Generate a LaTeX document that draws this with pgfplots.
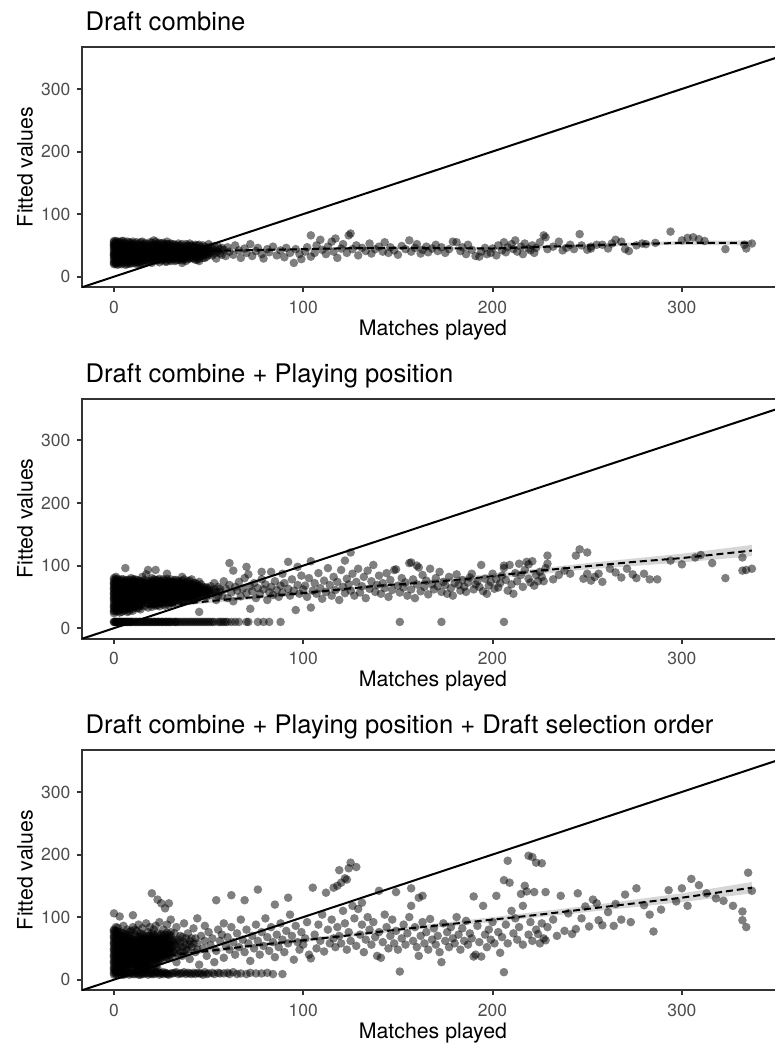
\documentclass[border=0pt]{standalone}
\usepackage{fontspec}
\setmainfont{TeX Gyre Heros}
\usepackage{pgfplots}
\pgfplotsset{compat=1.18}
\definecolor{c20}{HTML}{333333}
\definecolor{c30}{HTML}{4D4D4D}
\definecolor{band}{HTML}{999999}
\pgfplotsset{
  panel/.style={
    scale only axis, width=701.7pt, height=240pt,
    xmin=-16.85, xmax=353.85, ymin=-16.5, ymax=367,
    xtick={0,100,200,300}, ytick={0,100,200,300},
    tick align=outside, tick pos=left,
    major tick length=5.3pt,
    every tick/.style={c20, line width=2pt},
    axis line style={c20, line width=2pt},
    ticklabel style={font=\fontsize{17.5}{20}\selectfont, text=c30},
    yticklabel style={xshift=-3pt},
    xticklabel style={yshift=-5pt},
    /pgf/number format/assume math mode=true,
    label style={font=\fontsize{21.3}{25}\selectfont},
    xlabel={Matches played}, ylabel={Fitted values},
    xlabel style={at={(axis description cs:0.5,0)}, anchor=base, yshift=-48pt},
    ylabel style={at={(axis description cs:-0.0814,0.5)}, anchor=center},
    title style={at={(axis description cs:0,1)}, anchor=base west, yshift=10.3pt,
      font=\fontsize{25.6}{30}\selectfont},
  },
  pts/.style={only marks, mark=*, mark size=4.3pt,
    mark options={draw opacity=0, fill=black, fill opacity=0.5}},
  idl/.style={black, line width=2pt},
  lo/.style={black, line width=2pt, dash pattern=on 7pt off 4pt},
  rib/.style={fill=band, fill opacity=0.4, draw=none},
}
\begin{document}
\begin{tikzpicture}
\useasboundingbox (0pt,0pt) rectangle (775pt,-1044pt);

% ---------- panel 1 ----------
\begin{axis}[panel, at={(82.1pt,-287pt)}, anchor=south west, title={Draft combine}]
\addplot[pts] coordinates {
(0,20)(0,24)(0,28)(0,31)(0,34)(0,37)(0,40)(0,43)(0,46)(0,49)(0,52)(0,55)(0,57)
(1,22)(1,26)(1,30)(1,33)(1,36)(1,39)(1,42)(1,45)(1,48)(1,51)(1,54)
(2,19)(2,23)(2,27)(2,32)(2,35)(2,38)(2,41)(2,44)(2,47)(2,50)(2,53)(2,56)
(3,21)(3,25)(3,29)(3,36)(3,43)(3,50)(3,55)
(4,20)(4,27)(4,33)(4,39)(4,46)(4,52)(4,57)
(5,22)(5,30)(5,37)(5,44)(5,49)(5,54)
(6,19)(6,26)(6,34)(6,41)(6,48)(6,53)
(7,23)(7,31)(7,38)(7,45)(7,51)(7,56)
(8,21)(8,28)(8,35)(8,42)(8,50)
(9,25)(9,33)(9,40)(9,47)(9,54)
(10,22)(10,30)(10,38)(10,45)(10,52)
(11,27)(11,35)(11,43)(11,49)
(12,20)(12,32)(12,40)(12,55)
(13,25)(13,37)(13,46)(13,52)
(14,29)(14,42)(14,50)
(15,22)(15,34)(15,45)(15,56)
(16,27)(16,39)(16,48)
(17,31)(17,43)(17,53)
(18,24)(18,36)(18,46)
(19,33)(19,41)(19,55)
(20,22)(20,29)(20,38)(20,49)
(21,35)(21,44)(21,58)
(22,26)(22,40)(22,51)
(23,31)(23,47)
(24,23)(24,37)(24,54)
(25,30)(25,42)(25,49)
(26,27)(26,45)
(27,34)(27,52)
(28,24)(28,39)(28,47)
(29,32)(29,43)
(30,28)(30,37)(30,53)
(31,41)(31,48)
(32,25)(32,35)
(33,30)(33,44)(33,50)
(34,38)(34,27)
(35,33)(35,46)
(36,22)(36,40)(36,52)
(37,31)(37,44)
(38,36)(38,48)
(39,28)(39,41)
(40,34)(40,45)(40,53)
(41,38)(41,30)
(42,43)(42,49)
(43,33)(43,39)
(44,27)(44,46)
(45,25)(45,36)(45,51)
(46,41)(46,33)
(47,44)(47,38)
(48,30)(48,48)
(49,36)(49,42)
(50,39)(50,52)
(0,22)(0,35)(0,50)(1,20)(1,57)(2,29)(2,45)(3,33)(3,39)(3,47)(4,24)(4,42)(5,27)(5,40)
(5,57)(6,30)(6,37)(6,44)(7,20)(7,28)(8,25)(8,39)(8,46)(8,55)(9,21)(9,29)(9,36)(9,51)
(10,26)(10,34)(10,42)(10,56)(11,23)(11,31)(11,53)(12,24)(12,28)(12,36)(12,47)(13,21)
(13,30)(13,42)(14,22)(14,34)(14,38)(14,55)(15,26)(15,30)(15,40)(15,51)(16,23)(16,32)
(16,44)(16,53)(17,26)(17,36)(17,48)(18,29)(18,41)(18,51)(19,24)(19,37)(19,49)(20,33)
(20,44)(20,54)(21,27)(21,39)(21,50)(22,31)(22,45)(22,56)(23,26)(23,39)(23,53)(24,29)
(24,44)(25,35)(25,53)(26,33)(26,39)(26,50)(27,28)(27,42)(28,33)(28,52)(29,37)(29,48)
(30,32)(30,44)(31,35)(31,29)(32,40)(32,47)(33,37)(34,43)(34,49)(35,40)(36,30)(37,38)
(38,42)(39,35)(40,40)(41,44)(42,37)(43,47)(44,40)
(20,25)(21,31)(22,35)(23,43)(23,50)(24,33)(24,48)(25,26)(25,38)(25,45)(26,30)(26,36)
(26,42)(26,54)(27,24)(27,38)(27,46)(28,29)(28,43)(28,56)(29,27)(29,40)(29,52)(30,25)
(30,41)(30,49)(31,32)(31,38)(31,44)(31,52)(32,29)(32,43)(32,51)(33,26)(33,34)(33,40)
(34,31)(34,46)(34,53)(35,28)(35,37)(35,50)(36,26)(36,35)(36,44)(37,28)(37,35)(37,41)
(37,48)(38,25)(38,32)(38,40)(38,52)(39,31)(39,45)(39,50)(40,29)(40,37)(40,49)(41,34)
(41,42)(41,50)(42,29)(42,33)(42,40)(42,46)(43,27)(43,36)(43,43)(43,51)(44,31)(44,36)
(44,50)(45,29)(45,40)(45,45)(46,37)(46,47)(47,30)(47,34)(47,50)(48,36)(48,41)(48,44)
(49,32)(49,46)(50,35)(50,44)(51,38)(51,48)(52,41)(53,37)(53,49)(55,40)(56,44)(57,35)
(57,46)
(52,34)(52,45)(54,41)(54,29)(55,48)(56,37)(58,43)(59,33)(60,47)(61,40)
(63,35)(64,50)(66,42)(67,30)(69,45)(70,38)(72,52)(73,33)(75,41)(76,46)
(78,36)(79,29)(81,44)(82,39)(84,48)(86,34)(88,42)(90,31)(91,46)(93,38)
(95,22)(96,44)(98,36)(99,28)(101,40)(102,47)(104,66)(104,32)(106,38)(107,50)
(109,59)(110,43)(112,36)(113,48)(115,56)(116,40)(117,61)(118,30)(120,45)(121,52)
(123,38)(124,66)(125,69)(126,44)(128,50)(129,34)(131,46)(133,41)(135,53)(136,37)
(138,44)(140,48)(142,40)(143,55)(145,38)(146,47)(148,42)(150,35)(152,49)(154,44)
(156,58)(157,40)(159,46)(160,52)(162,37)(163,43)(165,48)(166,39)(168,45)(170,51)
(171,41)(173,47)(175,38)(177,44)(179,56)(181,55)(183,41)(184,47)(186,36)(187,51)
(189,43)(191,33)(193,32)(194,40)(196,46)(197,36)(199,38)(200,45)(202,34)(203,50)
(205,42)(206,55)(207,39)(208,47)(210,52)(211,44)(212,58)(213,40)(215,48)(216,36)
(217,53)(219,45)(220,42)(221,50)(222,38)(223,46)(225,55)(227,66)(228,63)(229,44)
(232,48)(235,56)(237,42)(239,46)(241,51)(243,44)(246,68)(247,50)(250,43)(252,48)
(252,45)(255,51)(258,51)(261,45)(263,53)(265,59)(268,56)(270,44)(272,41)(276,50)
(279,53)(281,52)(286,54)(294,72)(300,58)(303,62)(306,63)(309,60)(312,57)(323,44)
(333,51)(334,45)(337,53)
};
\addplot[rib] coordinates {(0,39.5)(50,42.5)(100,46)(150,48)(200,47)(250,52.5)(300,57)(337,58)
  (337,50)(300,51)(250,47.5)(200,43)(150,44)(100,42)(50,39.5)(0,34.5)} -- cycle;
\addplot[lo] coordinates {(0,37)(25,39)(50,41)(75,42.5)(100,44)(125,45.5)(150,46)(175,45.5)
  (200,45)(225,47.5)(250,50)(275,52)(300,54)(337,54)};
\addplot[idl] coordinates {(-20,-20)(400,400)};
\end{axis}

% ---------- panel 2 ----------
\begin{axis}[panel, at={(82.1pt,-638.5pt)}, anchor=south west, title={Draft combine + Playing position}]
\addplot[pts] coordinates {
(0,10)(0,10)(1,10)(1,10)(2,10)(3,10)(3,10)(4,10)(5,10)(6,10)(7,10)(8,10)(9,10)(10,10)
(11,10)(12,10)(13,10)(14,10)(15,10)(16,10)(17,10)(18,10)(19,10)(20,10)(21,10)(22,10)
(23,10)(24,10)(25,10)(26,10)(27,10)(28,10)(29,10)(30,10)(31,10)(32,10)(33,10)(34,10)
(36,10)(38,10)(40,10)(41,10)(43,10)(44,10)(46,10)(47,10)(49,10)(51,10)(52,10)(55,10)
(57,10)(58,10)(60,10)(64,10)(66,10)(70,10)(71,10)(76,10)(79,10)(82,10)(88,10)
(151,10)(173,10)(206,10)
(0.5,10)(1.5,10)(2.5,10)(3.5,10)(4.5,10)(5.5,10)(6.5,10)(7.5,10)(8.5,10)(9.5,10)(11.5,10)
(13.5,10)(15.5,10)(17.5,10)(19.5,10)(21.5,10)(23.5,10)(25.5,10)(27.5,10)(29.5,10)(32.5,10)
(35,10)(37,10)(39,10)(42,10)(45,10)(48,10)(50,10)(53,10)(56,10)(59,10)(62,10)
(0,24)(0,29)(0,33)(0,37)(0,41)(0,45)(0,49)(0,53)(0,57)(0,61)(0,65)(0,69)(0,73)(0,77)(0,80)
(1,27)(1,35)(1,43)(1,51)(1,59)(1,67)(1,75)(1,82)
(2,31)(2,39)(2,47)(2,55)(2,63)(2,71)(2,79)
(3,25)(3,36)(3,44)(3,52)(3,60)(3,68)(3,76)
(4,30)(4,40)(4,48)(4,58)(4,66)(4,74)
(5,28)(5,38)(5,46)(5,54)(5,62)(5,70)(5,78)
(6,33)(6,42)(6,50)(6,57)(6,64)(6,72)(6,96)
(7,26)(7,35)(7,45)(7,53)(7,61)(7,69)(7,77)
(8,31)(8,40)(8,49)(8,56)(8,65)(8,73)
(9,37)(9,44)(9,52)(9,60)(9,68)(9,80)
(10,28)(10,34)(10,47)(10,55)(10,63)(10,71)(10,78)
(11,39)(11,50)(11,58)(11,66)(11,74)
(12,32)(12,43)(12,53)(12,61)(12,69)(12,77)
(13,36)(13,46)(13,56)(13,64)(13,72)
(14,30)(14,41)(14,50)(14,59)(14,67)(14,75)
(15,44)(15,54)(15,62)(15,70)(15,82)
(16,35)(16,48)(16,57)(16,65)(16,73)
(17,40)(17,52)(17,60)(17,68)(17,86)
(18,33)(18,45)(18,55)(18,63)(18,71)(18,93)
(19,49)(19,58)(19,66)(19,74)
(20,38)(20,46)(20,56)(20,64)(20,72)(20,80)
(21,43)(21,53)(21,61)(21,69)
(22,36)(22,50)(22,59)(22,67)(22,77)(22,93)
(23,47)(23,57)(23,65)(23,73)
(24,40)(24,52)(24,62)(24,70)
(25,45)(25,55)(25,63)(25,75)
(26,49)(26,58)(26,68)(26,78)
(27,42)(27,54)(27,64)(27,72)
(28,51)(28,60)(28,70)(28,87)
(29,46)(29,57)(29,66)
(30,40)(30,53)(30,62)(30,74)
(31,48)(31,59)(31,69)
(32,55)(32,65)(32,77)
(33,45)(33,61)(33,71)
(34,52)(34,58)(34,68)
(35,47)(35,63)(35,74)
(36,56)(36,66)(36,82)
(37,50)(37,60)(37,71)
(38,54)(38,64)
(39,45)(39,58)(39,69)
(40,61)(40,52)(40,76)
(41,55)(41,66)
(42,48)(42,59)(42,72)
(43,62)(43,53)
(44,57)(44,67)
(45,26)(45,50)(45,63)
(46,59)(46,70)
(47,54)(47,61)
(48,57)(48,65)
(49,51)(49,60)
(50,63)(50,56)
(0,27)(0,35)(0,47)(0,55)(0,63)(0,71)(1,31)(1,39)(1,47)(1,55)(1,63)(1,71)(1,78)(2,27)
(2,35)(2,43)(2,51)(2,59)(2,67)(2,75)(3,30)(3,40)(3,48)(3,56)(3,64)(3,72)(4,26)(4,35)
(4,44)(4,53)(4,62)(4,70)(4,78)(5,33)(5,42)(5,50)(5,58)(5,66)(5,74)(6,29)(6,38)(6,46)
(6,54)(6,61)(6,68)(6,76)(7,31)(7,40)(7,49)(7,57)(7,65)(7,73)(8,27)(8,36)(8,45)(8,52)
(8,61)(8,69)(8,77)(9,33)(9,41)(9,48)(9,56)(9,64)(9,72)(10,31)(10,40)(10,51)(10,59)
(10,67)(10,75)(11,35)(11,44)(11,54)(11,62)(11,70)(11,78)(12,38)(12,48)(12,57)(12,65)
(12,73)(13,32)(13,41)(13,51)(13,60)(13,68)(13,76)(14,36)(14,46)(14,55)(14,63)(14,71)
(15,40)(15,49)(15,58)(15,66)(15,74)(16,43)(16,52)(16,61)(16,69)(16,77)(17,46)(17,56)
(17,64)(17,72)(18,40)(18,50)(18,59)(18,67)(18,75)(19,44)(19,54)(19,62)(19,70)(20,42)
(20,51)(20,60)(20,68)(21,47)(21,57)(21,65)(21,74)(22,45)(22,55)(22,63)(22,71)(23,52)
(23,61)(23,69)(24,46)(24,57)(24,66)(24,75)(25,50)(25,59)(25,68)(26,54)(26,63)(26,72)
(27,48)(27,59)(27,68)(28,56)(28,65)(28,75)(29,52)(29,61)(29,71)(30,57)(30,67)(31,53)
(31,64)(31,74)(32,60)(32,70)(33,56)(33,66)(34,62)(34,72)(35,58)(35,68)(36,61)(36,71)
(37,55)(37,65)(38,59)(38,69)(39,63)(40,57)(40,67)(41,61)(42,65)(43,58)(44,62)
(20,34)(20,76)(21,38)(21,51)(21,78)(22,40)(22,62)(23,37)(23,44)(23,55)(23,77)(24,35)
(24,50)(24,60)(24,79)(25,41)(25,52)(25,60)(25,71)(26,38)(26,46)(26,60)(26,66)(27,36)
(27,45)(27,51)(27,62)(27,76)(28,41)(28,47)(28,54)(28,67)(28,79)(29,37)(29,43)(29,55)
(29,64)(29,75)(30,45)(30,50)(30,59)(30,70)(30,78)(31,40)(31,51)(31,57)(31,67)(32,44)
(32,50)(32,57)(32,63)(32,74)(33,40)(33,49)(33,53)(33,59)(33,69)(33,77)(34,45)(34,55)
(34,65)(34,75)(35,43)(35,51)(35,55)(35,61)(35,71)(36,46)(36,52)(36,58)(36,64)(36,76)
(37,44)(37,53)(37,63)(37,68)(37,78)(38,47)(38,51)(38,57)(38,62)(38,73)(39,50)(39,55)
(39,61)(39,66)(39,75)(40,44)(40,49)(40,55)(40,64)(40,71)(41,47)(41,52)(41,58)(41,63)
(41,70)(41,78)(42,45)(42,53)(42,62)(42,68)(43,49)(43,56)(43,66)(43,72)(44,47)(44,52)
(44,60)(44,70)(45,55)(45,59)(45,67)(45,74)(46,52)(46,63)(47,57)(47,66)(48,50)(48,61)
(49,55)(49,65)(50,60)(51,53)(51,67)(52,56)(53,62)(54,58)(55,52)(56,63)
(52,60)(53,72)(54,45)(55,66)(56,58)(57,52)(58,75)(59,63)(60,48)(61,104)(61,69)(62,57)
(63,92)(63,43)(64,66)(65,60)(66,74)(67,51)(68,63)(69,80)(70,98)(70,56)(71,86)(72,31)
(72,67)(73,59)(74,72)(75,48)(76,64)(77,55)(78,78)(78,90)(79,62)(80,70)(81,45)(82,58)
(83,66)(83,90)(84,53)(85,75)(86,61)(87,50)(88,68)(89,57)(89,87)(90,72)(92,106)(92,63)
(93,52)(94,78)(95,60)(96,29)(97,98)(97,69)(98,55)(99,84)(100,62)
(101,68)(102,50)(103,80)(104,107)(104,33)(105,60)(106,72)(107,55)(108,88)(109,64)
(110,47)(111,76)(112,58)(113,96)(114,69)(115,52)(116,82)(117,61)(118,74)(119,45)
(120,93)(121,66)(122,108)(122,56)(123,79)(124,70)(125,121)(125,60)(126,87)(127,52)
(128,74)(129,95)(130,57)(131,67)(132,82)(133,48)(134,92)(135,63)(136,75)(137,101)
(138,58)(139,69)(140,84)(141,55)(142,72)(143,64)(144,88)(145,50)(146,77)(147,61)
(148,93)(149,94)(150,68)(151,57)(152,80)(153,65)(154,73)(155,52)(156,104)(157,105)
(157,62)(158,78)(159,48)(160,100)(160,70)(161,97)(162,59)(163,85)(164,66)(165,76)
(166,54)(167,95)(168,70)(169,62)(170,80)(171,67)(172,90)(173,58)(174,74)(175,69)
(176,55)(177,82)(178,64)(179,52)(180,72)(181,86)(182,69)(183,60)(184,77)(185,66)
(186,58)(187,73)(188,81)(189,87)(190,62)(191,70)(192,75)(193,66)(194,101)(195,59)
(196,79)(197,55)(198,68)(199,74)(200,87)(201,63)(202,78)(203,65)(204,72)(205,84)
(206,96)(206,100)(207,77)(208,60)(209,101)(210,70)(211,55)(212,88)(213,75)(214,103)
(215,85)(216,66)(217,93)(218,106)(219,102)(219,79)(220,73)(221,107)(222,68)(223,85)
(224,75)(225,90)(226,82)(227,75)(228,96)(229,116)(229,103)
(232,78)(235,85)(238,92)(241,87)(244,116)(246,126)(248,79)(250,121)(250,87)(252,76)
(254,82)(256,87)(258,74)(262,95)(265,89)(268,81)(271,95)(274,86)(276,80)(280,87)
(283,78)(287,78)(294,108)(300,102)(307,113)(310,117)(316,104)(323,80)(332,113)(332,92)
(334,93)(337,95)
};
\addplot[rib] coordinates {(0,34)(50,46)(100,59)(150,73)(200,87)(250,104)(300,119)(337,133)
  (337,115)(300,105)(250,94)(200,79)(150,67)(100,53)(50,40)(0,26)} -- cycle;
\addplot[lo] coordinates {(0,30)(20,35)(40,40)(60,46)(80,51)(100,56)(120,62)(140,68)(160,72)
  (180,77)(200,83)(225,92)(250,99)(275,106)(300,112)(337,124)};
\addplot[idl] coordinates {(-20,-20)(400,400)};
\end{axis}

% ---------- panel 3 ----------
\begin{axis}[panel, at={(82.1pt,-990pt)}, anchor=south west,
  title={Draft combine + Playing position + Draft selection order}]
\addplot[pts] coordinates {
(0,8)(0,11)(1,9)(1,12)(2,8)(2,11)(3,10)(4,8)(4,12)(5,10)(6,9)(7,11)(8,8)(9,10)(10,12)
(11,9)(12,10)(13,8)(14,11)(15,9)(16,12)(17,10)(18,8)(19,10)(20,11)(21,9)(22,10)(23,12)
(24,8)(25,10)(26,9)(27,11)(28,10)(29,8)(30,10)(32,11)(34,9)(35,10)(37,12)(38,9)(40,10)
(42,11)(43,9)(45,10)(47,8)(48,12)(50,10)(53,9)(55,11)(58,10)(61,9)(63,12)(67,10)(70,9)
(72,11)(78,10)(84,9)(89,9)(151,13)(206,12)
(3,13)(5,8)(6,12)(8,11)(10,9)(12,12)(14,8)(16,10)(18,12)(20,9)(22,12)(24,11)(26,12)
(28,9)(31,10)(33,12)(36,10)(39,11)(41,9)(44,11)(46,10)(49,9)(52,11)(56,10)(60,11)
(65,9)(75,10)(81,11)
(0,15)(0,20)(0,25)(0,30)(0,35)(0,40)(0,45)(0,50)(0,55)(0,60)(0,65)(0,70)(0,75)(0,80)(0,106)
(1,18)(1,28)(1,38)(1,48)(1,58)(1,68)(1,78)
(2,22)(2,32)(2,42)(2,52)(2,62)(2,72)(2,83)
(3,16)(3,26)(3,36)(3,46)(3,56)(3,66)(3,76)(3,101)
(4,20)(4,30)(4,40)(4,50)(4,60)(4,70)
(5,24)(5,34)(5,44)(5,54)(5,64)(5,74)(5,86)
(6,18)(6,28)(6,38)(6,48)(6,58)(6,68)
(7,22)(7,32)(7,42)(7,52)(7,62)(7,80)
(8,26)(8,36)(8,46)(8,56)(8,66)(8,76)
(9,19)(9,30)(9,40)(9,50)(9,60)(9,70)
(10,24)(10,34)(10,44)(10,54)(10,64)(10,84)(10,103)
(11,28)(11,38)(11,48)(11,58)(11,72)
(12,20)(12,32)(12,42)(12,52)(12,62)(12,78)
(13,26)(13,36)(13,46)(13,56)(13,68)(13,88)
(14,30)(14,40)(14,50)(14,60)(14,74)
(15,22)(15,34)(15,44)(15,54)(15,64)(15,82)
(16,28)(16,38)(16,48)(16,58)(16,70)
(17,32)(17,42)(17,52)(17,66)(17,90)
(18,24)(18,36)(18,46)(18,56)(18,76)
(19,40)(19,50)(19,62)(19,84)
(20,30)(20,44)(20,54)(20,68)(20,138)
(21,36)(21,48)(21,58)(21,80)
(22,26)(22,42)(22,52)(22,64)(22,86)
(23,34)(23,46)(23,60)(23,74)(23,128)
(24,38)(24,50)(24,70)(24,92)
(25,30)(25,56)(25,66)(25,122)
(26,44)(26,62)(26,80)
(27,36)(27,52)(27,72)(27,114)
(28,48)(28,58)(28,88)
(29,40)(29,66)(29,122)
(30,54)(30,76)(30,96)
(0,18)(0,28)(0,38)(0,48)(0,58)(0,68)(0,78)(1,14)(1,23)(1,33)(1,43)(1,53)(1,63)(1,73)
(1,84)(2,17)(2,27)(2,37)(2,47)(2,57)(2,67)(2,77)(3,21)(3,31)(3,41)(3,51)(3,61)(3,71)
(4,15)(4,25)(4,35)(4,45)(4,55)(4,65)(4,75)(5,19)(5,29)(5,39)(5,49)(5,59)(5,69)(6,23)
(6,33)(6,43)(6,53)(6,63)(6,73)(7,17)(7,27)(7,37)(7,47)(7,57)(7,67)(8,21)(8,31)(8,41)
(8,51)(8,61)(8,71)(9,25)(9,35)(9,45)(9,55)(9,65)(9,78)(10,19)(10,29)(10,39)(10,49)
(10,59)(11,23)(11,33)(11,43)(11,53)(11,63)(11,80)(12,27)(12,37)(12,47)(12,57)(12,68)
(13,21)(13,31)(13,41)(13,51)(13,61)(14,25)(14,35)(14,45)(14,55)(14,66)(15,29)(15,39)
(15,49)(15,59)(15,72)(16,23)(16,33)(16,43)(16,53)(16,63)(17,27)(17,37)(17,47)(17,58)
(18,31)(18,41)(18,51)(18,64)(19,35)(19,45)(19,56)(19,70)(20,38)(20,49)(20,60)(21,42)
(21,53)(21,66)(22,36)(22,47)(22,58)(23,40)(23,52)(23,66)(24,44)(24,58)(25,40)(25,48)
(26,52)(26,70)(27,44)(27,60)(28,52)(28,68)(29,48)(29,58)(30,44)(30,64)
(12,15)(12,22)(13,18)(14,20)(15,18)(16,18)(17,20)(18,18)(19,20)(20,18)(21,22)(22,20)
(23,18)(12,35)(12,45)(12,55)(13,33)(13,43)(13,53)(13,63)(14,28)(14,48)(14,58)(14,70)
(15,32)(15,42)(15,52)(15,62)(16,26)(16,36)(16,46)(16,56)(16,66)(17,24)(17,34)(17,44)
(17,55)(17,62)(18,27)(18,38)(18,48)(18,60)(18,70)(19,28)(19,38)(19,43)(19,53)(19,65)
(20,34)(20,41)(20,47)(20,57)(20,64)(20,74)(21,32)(21,39)(21,45)(21,51)(21,62)(21,72)
(22,30)(22,39)(22,44)(22,55)(22,68)(23,30)(23,37)(23,49)(23,56)(23,63)(24,32)(24,41)
(24,47)(24,54)(24,64)(25,35)(25,44)(25,52)(25,60)(25,73)(26,38)(26,48)(26,57)(26,66)
(27,40)(27,48)(27,56)(27,66)(28,36)(28,44)(28,62)(28,75)(29,34)(29,45)(29,54)(29,72)
(30,38)(30,50)(30,58)(30,70)(31,52)(31,62)(32,42)(32,56)(32,74)(33,48)(33,60)(34,40)
(34,64)(35,46)(35,58)(36,52)(36,68)(37,44)(38,56)(38,66)(39,48)(40,62)(41,52)(42,58)
(43,66)(44,48)
(31,45)(32,63)(33,28)(33,84)(34,52)(35,70)(36,38)(37,60)(37,90)(38,48)(39,74)(40,33)
(40,56)(41,66)(42,82)(43,44)(44,58)(44,98)(45,24)(46,70)(47,50)(48,62)(48,86)(49,38)
(50,76)(51,55)(52,66)(53,28)(54,127)(54,46)(55,80)(56,62)(57,72)(58,35)(58,90)(59,55)
(60,68)(61,48)(62,135)(62,84)(63,60)(64,40)(65,74)(66,52)(67,96)(68,64)(69,127)(69,44)
(70,80)(71,58)(72,30)(73,70)(74,50)(75,88)(76,144)(76,62)(77,40)(78,76)(79,54)(80,98)
(81,68)(82,46)(83,84)(84,60)(85,120)(85,36)(86,72)(87,52)(88,90)(89,64)(90,44)(91,78)
(92,131)(92,58)(93,104)(94,70)(95,32)(96,86)(97,60)(98,48)(99,76)(100,56)(101,66)
(102,92)(103,40)(104,34)
(105,147)(106,72)(107,50)(108,88)(109,62)(110,104)(111,45)(112,139)(113,80)(114,58)
(115,96)(116,147)(116,66)(117,52)(118,150)(118,84)(119,175)(119,70)(120,155)(120,58)
(121,110)(122,162)(122,90)(123,160)(123,48)(124,178)(124,76)(125,187)(125,62)(126,118)
(127,98)(128,180)(128,54)(129,113)(130,72)(131,123)(131,88)(132,44)(133,64)(134,100)
(135,80)(136,56)(137,92)(138,68)(139,38)(140,142)(140,76)(141,35)(142,60)(143,104)
(144,84)(145,50)(146,70)(147,96)(148,58)(149,140)(149,78)(150,48)(152,66)(153,88)
(154,56)(155,74)(156,100)(157,146)(157,118)(158,62)(159,84)(160,52)(161,131)(161,38)
(162,70)(163,134)(163,92)(164,58)(165,76)(166,48)(167,97)(168,64)(169,82)(170,56)
(171,70)(172,44)(173,28)(174,90)(175,62)(176,76)(177,52)(178,84)(179,66)(180,58)
(181,100)(182,72)(183,48)(184,82)(185,62)(186,94)(187,56)(188,74)(189,66)(190,133)
(190,37)(191,40)(192,86)(193,60)(194,37)(195,118)(196,72)(197,52)(198,80)(199,64)
(200,92)(201,58)(202,134)(203,76)(204,43)(205,68)(206,159)(207,88)(208,190)(208,58)
(209,155)(210,110)(211,74)(212,98)(213,64)(214,84)(215,137)(216,118)(216,56)(217,150)
(218,141)(219,198)(219,72)(220,92)(221,196)(221,62)(222,140)(223,187)(223,80)(224,73)
(225,58)(226,186)(226,90)(227,66)(228,140)(228,63)(229,84)
(232,96)(234,70)(236,134)(238,78)(240,106)(242,73)(244,81)(245,138)(247,98)(249,117)
(251,85)(253,128)(255,122)(256,95)(258,87)(261,108)(264,86)(265,121)(268,96)(270,136)
(273,92)(276,146)(280,119)(283,104)(285,77)(289,112)(293,143)(297,125)(300,146)(303,118)
(305,161)(309,151)(313,138)(318,130)(322,126)(327,118)(332,109)(332,95)(334,84)(335,171)
(337,142)
};
\addplot[rib] coordinates {(0,32)(50,49)(100,66)(150,83)(200,100)(250,118)(300,138)(337,156)
  (337,138)(300,124)(250,108)(200,92)(150,77)(100,60)(50,43)(0,24)} -- cycle;
\addplot[lo] coordinates {(0,28)(25,37)(50,46)(75,55)(100,63)(125,71)(150,80)(175,88)
  (200,96)(225,104)(250,113)(275,122)(300,131)(337,147)};
\addplot[idl] coordinates {(-20,-20)(400,400)};
\end{axis}
\end{tikzpicture}
\end{document}
